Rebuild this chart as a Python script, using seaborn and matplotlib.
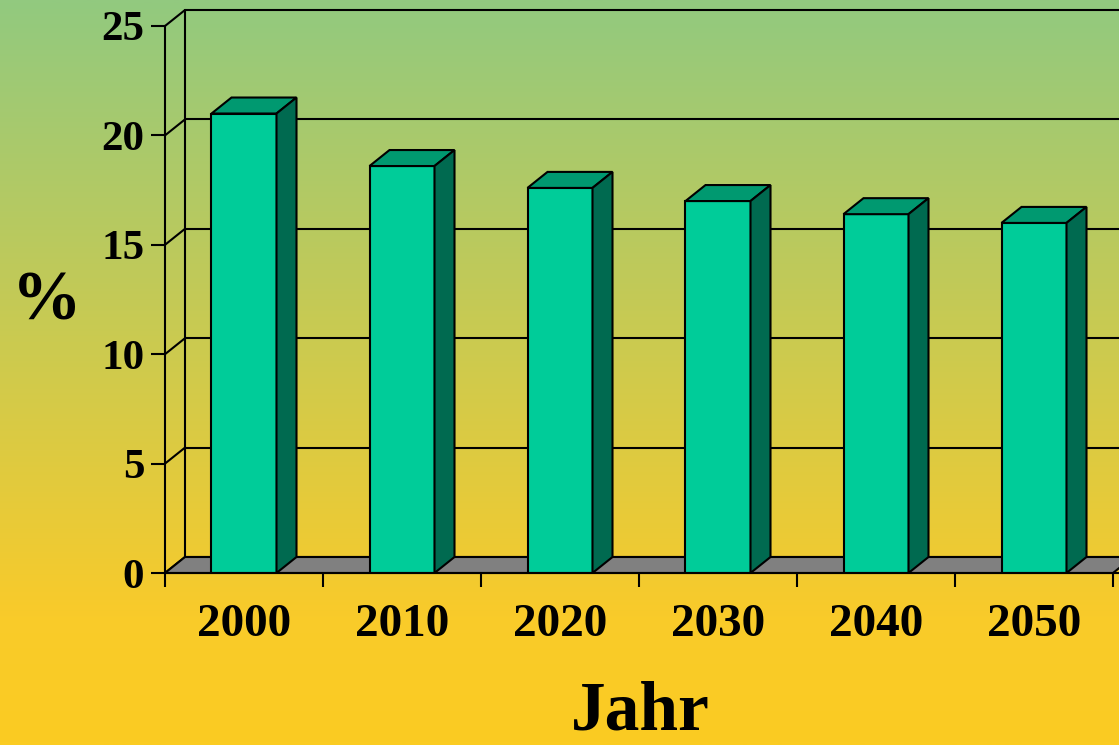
import numpy as np
import pandas as pd
import matplotlib
matplotlib.use('Agg')
import matplotlib.pyplot as plt
import seaborn as sns
from matplotlib.patches import Polygon
from matplotlib.colors import LinearSegmentedColormap

# 데이터
years = ['2000', '2010', '2020', '2030', '2040', '2050']
values = [21.0, 18.6, 17.6, 17.0, 16.4, 16.0]
yticks = [0, 5, 10, 15, 20, 25]

df = pd.DataFrame({'Jahr': years, 'pct': values})

sns.set_style('white')
plt.rcParams['font.family'] = ['Liberation Serif', 'DejaVu Serif']
plt.rcParams['text.color'] = 'black'
plt.rcParams['xtick.color'] = 'black'
plt.rcParams['ytick.color'] = 'black'

W, H = 1119, 745
fig = plt.figure(figsize=(W / 100, H / 100), dpi=100)

# 배경 그라데이션 (위 초록 -> 아래 노랑)
bg = fig.add_axes([0, 0, 1, 1], zorder=-10)
cmap = LinearSegmentedColormap.from_list(
    'bg', [(0, '#92C97F'), (0.83, '#F9CB2A'), (1, '#FBCC22')])
grad = np.linspace(0, 1, 400).reshape(-1, 1)
bg.imshow(grad, aspect='auto', cmap=cmap, extent=[0, 1, 0, 1], origin='upper')
bg.axis('off')

# 픽셀 기준 좌표 계산
x_left = 165      # 앞쪽 y축 위치
cat_w = 158       # 카테고리 폭 (px)
y0 = 573          # 0 위치 (위에서부터 px)
py_unit = 21.88   # 1% 당 px
depth_px = (20, 16)

xmax = -0.5 + (W - x_left) / cat_w
ytop = (y0 - 8) / py_unit
ax = fig.add_axes([x_left / W, (H - y0) / H, 1 - x_left / W, (y0 - 8) / H])
ax.set_facecolor('none')
ax.set_xlim(-0.5, xmax)
ax.set_ylim(0, ytop)

dx = depth_px[0] / cat_w
dy = depth_px[1] / py_unit
bw = 65 / cat_w

# 뒷벽 격자선과 왼쪽 벽
for v in yticks:
    ax.plot([-0.5 + dx, xmax + 1], [v + dy, v + dy], color='black', lw=1.5, zorder=1, clip_on=False)
    ax.plot([-0.5, -0.5 + dx], [v, v + dy], color='black', lw=1.5, zorder=1, clip_on=False)
ax.plot([-0.5 + dx, -0.5 + dx], [dy, 25 + dy], color='black', lw=1.5, zorder=1, clip_on=False)

# 바닥
ax.add_patch(Polygon([(-0.5, 0), (-0.5 + dx, dy), (5.5 + dx, dy), (5.5, 0)],
                     closed=True, facecolor='#808080', edgecolor='black', lw=1.5,
                     zorder=2, clip_on=False))

# 막대 앞면
sns.barplot(data=df, x='Jahr', y='pct', width=bw, color='#00CC99', saturation=1,
            edgecolor='black', linewidth=1.5, ax=ax, zorder=4)

# 막대 윗면, 옆면
for i, h in enumerate(values):
    x0, x1 = i - bw / 2, i + bw / 2
    ax.add_patch(Polygon([(x0, h), (x0 + dx, h + dy), (x1 + dx, h + dy), (x1, h)],
                         closed=True, facecolor='#009970', edgecolor='black', lw=1.5,
                         zorder=5, clip_on=False))
    ax.add_patch(Polygon([(x1, 0), (x1 + dx, dy), (x1 + dx, h + dy), (x1, h)],
                         closed=True, facecolor='#006A50', edgecolor='black', lw=1.5,
                         zorder=5, clip_on=False))

# 축 설정
ax.set_xlim(-0.5, xmax)
ax.set_ylim(0, ytop)
for s in ['top', 'right']:
    ax.spines[s].set_visible(False)
ax.spines['left'].set_bounds(0, 25)
ax.spines['bottom'].set_bounds(-0.5, xmax)
for s in ['left', 'bottom']:
    ax.spines[s].set_linewidth(1.5)
    ax.spines[s].set_color('black')
    ax.spines[s].set_zorder(6)

ax.set_yticks(yticks)
ax.set_yticklabels([str(v) for v in yticks], fontsize=31, fontweight='bold', color='black')
ax.tick_params(axis='y', direction='out', length=10, width=1.5, pad=5, left=True)
ax.set_xticks(range(len(years)))
ax.set_xticklabels(years, fontsize=34, fontweight='bold', color='black')
ax.set_xticks(np.arange(-0.5, 6, 1), minor=True)
ax.tick_params(axis='x', which='major', length=0, pad=22)
ax.tick_params(axis='x', which='minor', direction='out', length=10, width=1.5, bottom=True)

ax.set_xlabel('')
ax.set_ylabel('')
fig.text(640 / W, 1 - 729 / H, 'Jahr', fontsize=50, fontweight='bold', ha='center',
         va='baseline', color='black')
fig.text(47 / W, 1 - 302 / H, '%', fontsize=50, fontweight='bold', ha='center',
         va='center', color='black')

fig.savefig('out.png', dpi=100)
